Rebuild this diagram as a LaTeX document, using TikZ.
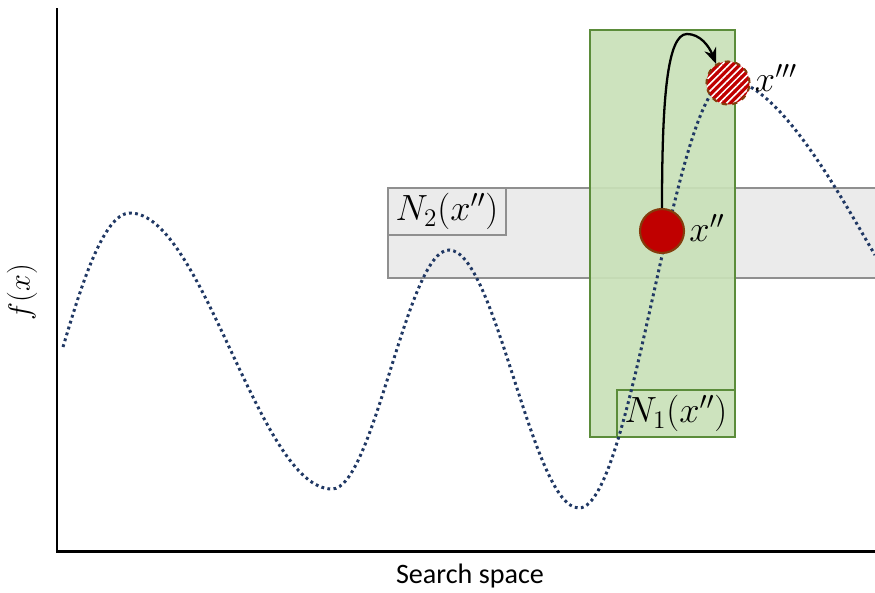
\documentclass[tikz,border=0pt]{standalone}
\usepackage{fontspec}
\newfontfamily\calib{Carlito}
\usetikzlibrary{patterns.meta,arrows.meta}
\definecolor{curveblue}{HTML}{203864}
\definecolor{darkred}{HTML}{C00000}
\definecolor{brownedge}{HTML}{843C0C}
\definecolor{lgreen}{HTML}{C9E1B8}
\definecolor{dgreen}{HTML}{5B8C3A}
\definecolor{lgray}{HTML}{EBEBEB}
\definecolor{mgray}{HTML}{8F8F8F}
\tikzset{
  axisline/.style={line width=1.7pt, black},
  fcurve/.style={line width=1.7pt, curveblue, dash pattern=on 1.6pt off 1.9pt},
  grayregion/.style={fill=lgray, draw=mgray, line width=0.9pt},
  greenregion/.style={fill=lgreen, fill opacity=0.92, draw=dgreen, line width=0.9pt},
  graylabel/.style={draw=mgray, line width=0.9pt, minimum width=118*0.02cm, minimum height=47*0.02cm, inner sep=0pt, font=\fontsize{19.5}{22}\selectfont},
  greenlabel/.style={draw=dgreen, line width=0.9pt, minimum width=118*0.02cm, minimum height=47*0.02cm, inner sep=0pt, font=\fontsize{19.5}{22}\selectfont},
  solpoint/.style={circle, fill=darkred, draw=brownedge, line width=1.2pt, minimum size=44*0.02cm, inner sep=0pt},
  newpoint/.style={circle, pattern={Lines[angle=45,distance=2.9pt,line width=0.9pt]}, pattern color=white, draw=brownedge, dashed, line width=1.2pt, minimum size=43*0.02cm, inner sep=0pt},
  ptlabel/.style={font=\fontsize{20}{23}\selectfont, inner sep=0pt},
  movearrow/.style={line width=1.3pt, black, -{Stealth[length=9pt,width=7pt]}}
}
\begin{document}
\begin{tikzpicture}[x=0.02cm, y=-0.02cm]
\useasboundingbox (0,0) rectangle (875,592);
% neighbourhood regions
\draw[grayregion] (388,188) rectangle (876,278);
\node[graylabel, fill=lgray] (n2) at (447,211.5) {$N_2(x'')$};
\draw[greenregion] (590,30) rectangle (735,437);
\node[greenlabel] (n1) at (676,413.5) {$N_1(x'')$};
% objective curve
\draw[fcurve] (63,347) .. controls (80,290) and (103,213) .. (130,213)
  .. controls (203,213) and (259,489) .. (332,489)
  .. controls (374,489) and (407,250) .. (449,250)
  .. controls (496,250) and (532,508) .. (579,508)
  .. controls (633,508) and (674,80) .. (728,80)
  .. controls (780,80) and (848,210) .. (875,255);
% axes
\draw[axisline] (57,8) -- (57,551) -- (876,551);
% points
\node[solpoint] (xpp) at (662,231) {};
\fill[darkred] (728,83) circle (21.5*0.02cm);
\node[newpoint] (xppp) at (728,83) {};
\node[ptlabel] (lxpp) at (707,228) {$x''$};
\node[ptlabel] (lxppp) at (776,78) {$x'''$};
% move arrow
\draw[movearrow] (xpp.north) .. controls (662,100) and (667,34) .. (687,34)
  .. controls (700,34) and (709,46) .. (xppp.122);
% axis labels
\node[rotate=90, font=\fontsize{18}{21}\selectfont] (fx) at (22,292) {$f(x)$};
\node[font=\calib\fontsize{16}{19}\selectfont] (ss) at (470,576) {Search space};
\end{tikzpicture}
\end{document}
